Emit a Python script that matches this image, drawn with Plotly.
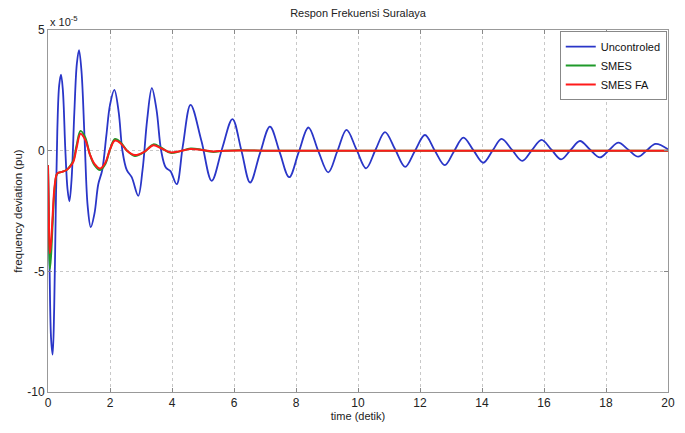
import plotly.graph_objects as go

# ---- data (values in units of 1e-5 pu) ----
blue_t = [0, 0.05, 0.1, 0.15, 0.2, 0.25, 0.3, 0.36, 0.42, 0.48, 0.56, 0.63, 0.69, 0.76, 0.85, 0.93,
          1.0, 1.08, 1.18, 1.28, 1.38, 1.5, 1.62, 1.75, 1.88, 2.0, 2.14, 2.28, 2.4, 2.54, 2.7, 2.91,
          3.05, 3.2, 3.35, 3.5, 3.65, 3.8, 3.95, 4.15, 4.35, 4.6, 4.95, 5.28, 5.62, 5.95, 6.24, 6.52,
          6.84, 7.16, 7.47, 7.78, 8.09, 8.4, 8.72, 9.04, 9.34, 9.63, 9.95, 10.26, 10.57, 10.87, 11.2,
          11.52, 11.84, 12.16, 12.48, 12.8, 13.1, 13.4, 13.72, 14.04, 14.34, 14.63, 14.97, 15.3, 15.61,
          15.92, 16.24, 16.55, 16.86, 17.16, 17.48, 17.8, 18.1, 18.4, 18.72, 19.04, 19.32, 19.6, 20]
blue_v = [-0.6, -4.8, -7.8, -8.45, -6.5, -2.5, 0.8, 2.7, 3.15, 2.5, 0.0, -1.6, -2.1, -1.2, 1.6, 3.6,
          4.17, 3.3, 0.5, -2.3, -3.17, -2.6, -1.4, -0.8, 0.6, 1.9, 2.52, 1.6, 0.0, -0.8, -1.1, -1.87,
          -0.8, 1.3, 2.59, 1.7, 0.0, -0.7, -0.85, -1.39, 0.2, 1.9, 0.4, -1.25, 0.1, 1.31, 0.0, -1.32,
          -0.1, 1.0, -0.05, -1.1, -0.05, 0.96, -0.02, -0.9, 0.0, 0.86, 0.05, -0.73, 0.05, 0.77, 0.05,
          -0.67, 0.0, 0.65, 0.0, -0.6, -0.02, 0.54, 0.02, -0.5, 0.0, 0.49, 0.03, -0.42, 0.02, 0.45,
          0.04, -0.36, 0.03, 0.4, 0.05, -0.28, 0.03, 0.33, 0.04, -0.25, 0.02, 0.28, 0.06]

ctrl_t = [0, 0.03, 0.06, 0.1, 0.15, 0.22, 0.3, 0.45, 0.6, 0.72, 0.82, 0.92, 1.05, 1.2, 1.35, 1.5,
          1.68, 1.85, 2.0, 2.16, 2.35, 2.55, 2.8, 3.1, 3.4, 3.65, 3.95, 4.25, 4.6, 4.95, 5.3, 5.7,
          6.2, 7, 8, 10, 12, 14, 16, 18, 20]
smes_v = [-0.6, -3.4, -4.9, -4.3, -3.0, -1.5, -0.95, -0.88, -0.8, -0.62, -0.4, 0.2, 0.82, 0.55,
          -0.15, -0.6, -0.8, -0.55, 0.05, 0.48, 0.33, 0.0, -0.22, -0.06, 0.26, 0.12, -0.09, -0.03,
          0.09, 0.04, -0.05, 0.0, 0.02, 0, 0, 0, 0, 0, 0, 0, 0]
smesfa_v = [-0.6, -3.0, -4.25, -3.8, -2.7, -1.4, -0.94, -0.88, -0.8, -0.65, -0.45, 0.1, 0.7, 0.45,
            -0.15, -0.55, -0.74, -0.5, 0.05, 0.42, 0.3, 0.0, -0.18, -0.05, 0.22, 0.1, -0.07, -0.02,
            0.07, 0.03, -0.03, 0.0, 0.01, 0, 0, 0, 0, 0, 0, 0, 0]

x_ticks = [0, 2, 4, 6, 8, 10, 12, 14, 16, 18, 20]
y_ticks = [-10, -5, 0, 5]
y_tick_text = ["-10", "-5", "0", "5"]

FONT = "Liberation Sans, Arial, sans-serif"

fig = go.Figure()
fig.add_trace(go.Scatter(x=blue_t, y=blue_v, mode="lines", name="Uncontroled",
                         line=dict(color="#2a36c8", width=1.8, shape="spline", smoothing=1)))
fig.add_trace(go.Scatter(x=ctrl_t, y=smes_v, mode="lines", name="SMES",
                         line=dict(color="#1f9a2a", width=2, shape="spline", smoothing=1)))
fig.add_trace(go.Scatter(x=ctrl_t, y=smesfa_v, mode="lines", name="SMES FA",
                         line=dict(color="#ff1a1a", width=2, shape="spline", smoothing=1)))

# page body has an 8px default margin, so the figure is sized/positioned to compensate
fig.update_layout(
    width=677, height=425, autosize=False,
    margin=dict(l=40, r=17, t=22, b=41, autoexpand=False),
    paper_bgcolor="white", plot_bgcolor="white",
    font=dict(family=FONT, size=11, color="#222"),
    title=dict(text="Respon Frekuensi Suralaya", x=0.5, xref="paper", xanchor="center",
               y=1 - 5 / 425, yanchor="middle", font=dict(size=11, color="#222")),
    showlegend=True,
    legend=dict(x=0.998, y=0.997, xanchor="right", yanchor="top",
                bgcolor="white", bordercolor="#888", borderwidth=1,
                font=dict(size=11, color="#111"), itemwidth=30,
                tracegroupgap=0),
)
fig.update_xaxes(range=[0, 20], tickvals=x_ticks, ticks="inside", ticklen=4, automargin=False,
                 tickcolor="#888", showline=True, linecolor="#999", linewidth=1, mirror="ticks",
                 showgrid=True, gridcolor="#c8c8c8", griddash="dot", gridwidth=1,
                 zeroline=False, tickfont=dict(size=12, color="#222"),
                 title=dict(text="time (detik)", font=dict(size=11, color="#222"), standoff=0))
fig.update_yaxes(range=[-10, 5], tickvals=y_ticks, ticktext=y_tick_text, ticks="inside",
                 ticklen=4, tickcolor="#888", showline=True, linecolor="#999", linewidth=1,
                 mirror="ticks", showgrid=True, gridcolor="#c8c8c8", griddash="dot", gridwidth=1,
                 zeroline=False, tickfont=dict(size=12, color="#222"), automargin=False,
                 title=dict(text="frequency deviation (pu)", font=dict(size=11.5, color="#222"),
                            standoff=2))

fig.add_annotation(xref="paper", yref="paper", x=0, y=1, xanchor="left", yanchor="bottom",
                   text="x 10<sup>-5</sup>", showarrow=False, font=dict(size=11, color="#222"),
                   xshift=0, yshift=0)

fig.write_html("out.html")
